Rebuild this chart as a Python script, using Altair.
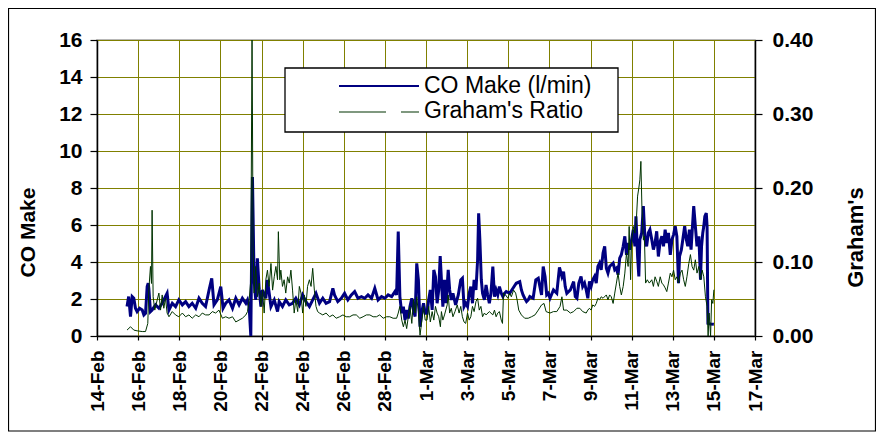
import altair as alt
import pandas as pd

# ---- CO Make (l/min): (days after 14-Feb-2004 00:00, value) ----
co_feb_a = [(1.46,1.59),(1.54,2.13),(1.63,1.05),(1.71,2.13),(1.79,2.04),(1.87,1.50),(1.95,1.32),(2.07,1.50),
            (2.20,1.41),(2.28,1.14),(2.36,1.23),(2.44,2.67),(2.49,2.85),(2.52,2.58),(2.60,1.32),(2.68,1.41),
            (2.85,1.68),(3.01,1.50),(3.17,1.77),(3.41,2.31),(3.50,1.41),(3.66,1.77),(3.82,1.59),(3.98,1.95),
            (4.15,1.68),(4.31,1.86),(4.47,1.59),(4.63,1.77),(4.80,1.50),(4.96,2.04),(5.12,1.77),(5.28,1.59),
            (5.45,2.49),(5.58,3.12),(5.69,1.68),(5.85,1.95),(6.02,2.67),(6.13,1.50),(6.26,1.77),(6.42,1.95),
            (6.59,1.50),(6.75,2.04),(6.91,1.68),(7.07,2.04),(7.24,1.77),(7.32,1.95),(7.40,1.59),(7.48,0.0),
            (7.56,8.6),(7.64,3.03),(7.72,1.95),(7.80,4.20),(7.89,2.49),(7.97,1.59),(8.05,2.49),(8.21,2.04),
            (8.29,3.03),(8.46,1.59),(8.62,1.95),(8.78,1.32)]
co_feb_b = [(8.86,1.86),(9.02,1.59),(9.18,1.95),(9.35,1.68),(9.51,1.77),(9.67,2.04),(9.84,1.68),(10.00,2.22),
            (10.16,1.86),(10.33,1.59),(10.49,1.95),(10.65,2.31),(10.82,1.77),(10.98,2.04),(11.14,1.77),(11.31,1.86),
            (11.47,2.58),(11.55,2.22),(11.71,1.86),(11.88,2.04),(12.04,2.31),(12.20,1.95),(12.37,2.22),(12.53,2.40),
            (12.69,2.04),(12.86,2.13),(13.02,2.04),(13.18,2.22),(13.35,2.04),(13.51,2.58),(13.67,1.95),(13.84,2.13),
            (14.00,2.04),(14.16,2.22),(14.33,2.13),(14.49,2.40),(14.57,2.22),(14.65,5.65),(14.73,2.13),(14.82,1.23),
            (14.90,1.59),(14.98,0.86),(15.06,1.41),(15.14,0.95),(15.22,1.59),(15.31,2.04),(15.39,1.41),(15.47,1.05),
            (15.55,3.93),(15.63,3.03),(15.71,0.50),(15.80,1.32),(15.88,1.77),(15.96,1.23)]
co_mar_a = [(16.05,1.23),(16.13,1.95),(16.21,2.49),(16.30,1.41),(16.38,3.57),(16.46,3.21),(16.54,1.77),(16.62,2.49),
            (16.69,4.32),(16.75,3.03),(16.82,1.59),(16.90,3.03),(16.98,1.77),(17.08,3.57),(17.15,2.49),(17.23,1.95),
            (17.31,2.31),(17.44,1.68),(17.57,2.22),(17.69,3.03),(17.77,3.12),(17.85,1.59),(17.93,1.77),(18.02,1.59),
            (18.10,2.31),(18.18,2.67),(18.26,1.77),(18.34,3.03),(18.43,2.49),(18.51,4.11),(18.56,6.63),(18.62,5.19),
            (18.69,3.03),(18.75,2.31),(18.84,1.95),(18.92,2.76),(19.00,2.22),(19.08,1.77),(19.16,2.31),(19.25,3.75),
            (19.33,2.13),(19.41,2.49),(19.49,2.22),(19.57,2.67),(19.66,2.31),(19.74,2.13),(19.82,2.31),(19.90,2.40),
            (20.07,2.31),(20.23,2.58),(20.39,2.85),(20.56,2.94),(20.64,2.49),(20.72,2.22),(20.80,2.04),(20.89,1.86),
            (20.97,1.95),(21.05,2.13),(21.21,2.04),(21.34,3.03),(21.46,3.12),(21.54,2.67),(21.62,2.22),(21.70,3.75),
            (21.79,3.21),(21.87,2.22),(21.95,2.31),(22.03,2.04),(22.20,2.49),(22.36,2.31),(22.49,3.71),(22.61,3.21),
            (22.69,3.48),(22.77,2.67),(22.85,2.31),(23.02,2.49),(23.18,2.94),(23.26,2.13),(23.34,2.04),(23.43,2.85)]
co_mar_b = [(23.54,3.22),(23.62,2.68),(23.71,2.86),(23.79,2.50),(23.87,2.04),(23.95,2.95),(24.03,2.68),(24.11,3.04),
            (24.20,3.22),(24.28,2.86),(24.36,3.76),(24.44,3.94),(24.52,3.58),(24.61,4.48),(24.69,4.85),(24.77,3.67),
            (24.85,3.40),(24.93,3.76),(25.01,3.85),(25.10,3.94),(25.18,3.58),(25.26,3.67),(25.34,3.31),(25.42,4.21),
            (25.50,4.39),(25.59,4.85),(25.67,5.39),(25.75,4.39),(25.83,5.03),(25.91,4.67),(26.00,5.21),(26.08,5.75),
            (26.16,4.85),(26.21,6.47),(26.29,4.30),(26.35,3.22),(26.40,5.21),(26.49,5.57),(26.57,7.02),(26.65,5.21),
            (26.73,4.85),(26.81,5.57),(26.89,5.75),(26.98,5.21),(27.06,4.67),(27.14,5.03),(27.22,5.66),(27.30,4.30),
            (27.39,5.12),(27.47,5.39),(27.55,4.85),(27.63,5.75),(27.71,5.03),(27.79,5.57),(27.88,4.39),(27.96,5.21),
            (28.04,5.48),(28.12,5.93),(28.20,5.39),(28.28,2.86),(28.33,4.30),(28.42,4.67),(28.50,5.30),(28.58,5.93),
            (28.66,5.21),(28.73,4.85),(28.81,5.75),(28.89,4.67),(28.95,5.75),(29.02,7.02),(29.10,5.93),(29.18,4.85),
            (29.27,5.39),(29.35,3.04),(29.40,4.85),(29.46,5.57),(29.51,5.93),(29.56,6.47),(29.63,6.65),(29.67,5.93),
            (29.71,0.69),(29.84,0.65),(30.00,0.63)]

# ---- Graham's Ratio: (days after 14-Feb-2004 00:00, ratio) ----
gr_feb_a = [(1.46,0.008),(1.63,0.0125),(1.79,0.008),(1.95,0.007),(2.20,0.006),(2.36,0.006),(2.47,0.017),(2.52,0.062),
            (2.60,0.094),(2.65,0.071),(2.68,0.170),(2.73,0.053),(2.81,0.035),(2.93,0.049),(3.01,0.058),(3.09,0.035),
            (3.17,0.0555),(3.25,0.0375),(3.33,0.051),(3.41,0.031),(3.50,0.026),(3.66,0.033),(3.82,0.0285),(3.98,0.026),
            (4.15,0.031),(4.31,0.026),(4.47,0.0285),(4.63,0.024),(4.80,0.0285),(4.96,0.026),(5.12,0.031),(5.28,0.0285),
            (5.45,0.0285),(5.61,0.033),(5.77,0.031),(5.93,0.035),(6.10,0.024),(6.26,0.026),(6.42,0.024),(6.59,0.026),
            (6.75,0.019),(6.91,0.0215),(7.07,0.024),(7.24,0.0285),(7.32,0.033),(7.40,0.049),(7.48,0.076),(7.54,0.42),
            (7.59,0.121),(7.64,0.058),(7.72,0.094),(7.80,0.053),(7.89,0.0715),(7.97,0.040),(8.05,0.062),(8.13,0.031),
            (8.21,0.076),(8.29,0.089),(8.37,0.067),(8.46,0.098),(8.54,0.062),(8.62,0.080),(8.70,0.094),(8.78,0.076)]
gr_feb_b = [(8.82,0.141),(8.89,0.076),(8.94,0.089),(9.02,0.067),(9.10,0.076),(9.18,0.058),(9.27,0.080),(9.35,0.0715),
            (9.43,0.089),(9.51,0.062),(9.59,0.031),(9.67,0.049),(9.76,0.033),(9.84,0.067),(9.92,0.058),(10.00,0.031),
            (10.08,0.0555),(10.16,0.040),(10.24,0.067),(10.33,0.076),(10.41,0.067),(10.49,0.0915),(10.57,0.062),(10.65,0.040),
            (10.73,0.033),(10.82,0.031),(10.98,0.0285),(11.14,0.031),(11.31,0.026),(11.47,0.0285),(11.63,0.024),(11.80,0.026),
            (11.96,0.0285),(12.12,0.026),(12.29,0.026),(12.45,0.0285),(12.61,0.0285),(12.78,0.024),(12.94,0.026),(13.10,0.0285),
            (13.27,0.0285),(13.43,0.026),(13.59,0.026),(13.75,0.0285),(13.92,0.024),(14.08,0.026),(14.24,0.026),(14.40,0.024),
            (14.57,0.024),(14.65,0.031),(14.73,0.040),(14.82,0.0215),(14.90,0.0125),(14.98,0.0215),(15.06,0.010),(15.14,0.026),
            (15.22,0.040),(15.31,0.017),(15.39,0.049),(15.47,0.031),(15.55,0.053),(15.63,0.031),(15.71,0.001),(15.80,0.0215),
            (15.88,0.040),(15.96,0.0215)]
gr_mar_a = [(16.05,0.0215),(16.13,0.040),(16.21,0.019),(16.30,0.033),(16.38,0.0215),(16.46,0.040),(16.54,0.031),(16.62,0.026),
            (16.70,0.0125),(16.75,0.033),(16.82,0.0215),(16.90,0.0285),(17.03,0.042),(17.08,0.0555),(17.15,0.031),(17.23,0.0375),
            (17.31,0.026),(17.41,0.033),(17.52,0.042),(17.61,0.031),(17.69,0.040),(17.77,0.026),(17.85,0.019),(17.93,0.017),
            (18.02,0.031),(18.10,0.0215),(18.18,0.026),(18.26,0.040),(18.34,0.033),(18.43,0.0465),(18.51,0.051),(18.59,0.035),
            (18.67,0.040),(18.75,0.026),(18.84,0.031),(18.92,0.0285),(19.08,0.033),(19.25,0.0285),(19.33,0.035),(19.41,0.026),
            (19.49,0.031),(19.57,0.033),(19.66,0.0215),(19.72,0.017),(19.77,0.058),(19.87,0.0555),(19.98,0.051),(20.07,0.058),
            (20.15,0.053),(20.26,0.062),(20.36,0.058),(20.43,0.049),(20.51,0.035),(20.64,0.0285),(20.80,0.024),(20.97,0.024),
            (21.13,0.026),(21.30,0.0285),(21.46,0.035),(21.62,0.042),(21.74,0.044),(21.84,0.033),(22.03,0.031),(22.20,0.033),
            (22.36,0.033),(22.52,0.040),(22.61,0.053),(22.69,0.035),(22.85,0.035),(23.02,0.031),(23.18,0.033),(23.34,0.0375),
            (23.48,0.0375)]
gr_mar_b = [(23.62,0.033),(23.79,0.031),(23.87,0.035),(23.95,0.0375),(24.03,0.035),(24.11,0.042),(24.20,0.040),(24.28,0.044),
            (24.36,0.051),(24.44,0.049),(24.52,0.053),(24.61,0.051),(24.77,0.0555),(24.85,0.049),(24.93,0.0555),(25.01,0.053),
            (25.10,0.044),(25.18,0.058),(25.26,0.0715),(25.34,0.085),(25.42,0.067),(25.50,0.0555),(25.59,0.067),(25.67,0.085),
            (25.75,0.112),(25.83,0.094),(25.88,0.148),(25.95,0.076),(26.00,0.130),(26.08,0.148),(26.16,0.139),(26.24,0.162),
            (26.29,0.189),(26.35,0.200),(26.40,0.211),(26.45,0.236),(26.50,0.175),(26.57,0.130),(26.62,0.135),(26.68,0.0715),
            (26.76,0.076),(26.86,0.0715),(26.98,0.076),(27.06,0.067),(27.14,0.080),(27.22,0.074),(27.30,0.067),(27.39,0.080),
            (27.47,0.0715),(27.55,0.069),(27.63,0.065),(27.71,0.060),(27.79,0.0715),(27.88,0.085),(27.96,0.080),(28.04,0.089),
            (28.12,0.076),(28.20,0.080),(28.28,0.0715),(28.37,0.085),(28.45,0.089),(28.53,0.076),(28.61,0.067),(28.69,0.080),
            (28.78,0.098),(28.86,0.110),(28.94,0.094),(29.02,0.089),(29.10,0.103),(29.18,0.085),(29.27,0.094),(29.35,0.076),
            (29.43,0.089),(29.51,0.080),(29.59,0.053),(29.67,0.040),(29.72,0.0),(29.77,0.031),(29.84,0.0),(29.89,0.049),
            (29.95,0.044),(30.00,0.0625)]

x_tick_dates = [(2, 14), (2, 16), (2, 18), (2, 20), (2, 22), (2, 24), (2, 26), (2, 28),
                (3, 1), (3, 3), (3, 5), (3, 7), (3, 9), (3, 11), (3, 13), (3, 15), (3, 17)]
co_ticks = [0, 2, 4, 6, 8, 10, 12, 14, 16]
gr_ticks = [0.0, 0.1, 0.2, 0.3, 0.4]
legend_labels = ["CO Make (l/min)", "Graham's Ratio"]

FONT = "Liberation Sans"
OLIVE = "#808000"
BLUE = "#000080"
GREEN = "#003300"

base = pd.Timestamp("2004-02-14")
df_co = pd.DataFrame(co_feb_a + co_feb_b + co_mar_a + co_mar_b, columns=["day", "co"])
df_co["time"] = base + pd.to_timedelta(df_co["day"], unit="D")
df_gr = pd.DataFrame(gr_feb_a + gr_feb_b + gr_mar_a + gr_mar_b, columns=["day", "gr"])
df_gr["time"] = base + pd.to_timedelta(df_gr["day"], unit="D")


def dt(m, d):
    return alt.DateTime(year=2004, month=m, date=d)


x_enc = alt.X(
    "time:T",
    scale=alt.Scale(domain=[dt(2, 14), dt(3, 17)]),
    axis=alt.Axis(
        values=[dt(m, d) for m, d in x_tick_dates], format="%-d-%b", labelAngle=270,
        labelFontSize=19, labelFontWeight="bold", tickSize=4, labelPadding=10,
        grid=True, gridColor=OLIVE, labelOverlap=False, labelFlush=False, title=None,
    ),
)

blue = alt.Chart(df_co).mark_line(color=BLUE, strokeWidth=3, clip=True).encode(
    x=x_enc,
    y=alt.Y(
        "co:Q",
        scale=alt.Scale(domain=[0, 16], nice=False, zero=True),
        axis=alt.Axis(
            orient="left", values=co_ticks, format="d", grid=True, gridColor=OLIVE,
            labelFontSize=21, labelFontWeight="bold", tickSize=7, labelPadding=8,
            title="CO Make", titleFontSize=21, titleFontWeight="bold", titleAngle=270,
            titleX=-69, titleY=192, titleAlign="center", titleBaseline="middle",
        ),
    ),
)

green = alt.Chart(df_gr).mark_line(color=GREEN, strokeWidth=1, clip=True).encode(
    x=x_enc,
    y=alt.Y(
        "gr:Q",
        scale=alt.Scale(domain=[0, 0.4], nice=False, zero=True),
        axis=alt.Axis(
            orient="right", values=gr_ticks, format=".2f", grid=False,
            labelFontSize=21, labelFontWeight="bold", tickSize=7, labelPadding=10,
            title="Graham's", titleFontSize=22, titleFontWeight="bold", titleAngle=270,
            titleX=100, titleY=197, titleAlign="center", titleBaseline="middle",
        ),
    ),
)

one = pd.DataFrame({"k": [0]})

outer = alt.Chart(one).mark_rect(fillOpacity=0, stroke="black", strokeWidth=1.2).encode(
    x=alt.value(-88.5), x2=alt.value(778.5), y=alt.value(-31.5), y2=alt.value(391)
)
leg_box = alt.Chart(one).mark_rect(fill="white", stroke="black", strokeWidth=1.3).encode(
    x=alt.value(188), x2=alt.value(521), y=alt.value(28), y2=alt.value(92)
)
leg_blue = alt.Chart(one).mark_rule(color=BLUE, strokeWidth=2).encode(
    x=alt.value(242), x2=alt.value(322), y=alt.value(46)
)
leg_green = alt.Chart(one).mark_rule(color=GREEN, strokeWidth=1.2, strokeDash=[47, 15, 18, 60]).encode(
    x=alt.value(242), x2=alt.value(322), y=alt.value(72)
)
leg_t1 = alt.Chart(one).mark_text(text=legend_labels[0], align="left", baseline="middle",
                                  fontSize=23, font=FONT, color="black").encode(
    x=alt.value(327), y=alt.value(46)
)
leg_t2 = alt.Chart(one).mark_text(text=legend_labels[1], align="left", baseline="middle",
                                  fontSize=23, font=FONT, color="black").encode(
    x=alt.value(327), y=alt.value(71)
)

chart = (
    alt.layer(outer, blue, green, leg_box, leg_blue, leg_green, leg_t1, leg_t2)
    .resolve_scale(y="independent")
    .properties(
        width=658, height=296,
        autosize=alt.AutoSizeParams(type="none"),
        padding={"left": 89, "top": 32, "right": 121, "bottom": 96},
        background="white",
    )
    .configure_view(stroke="#a0a0a0", strokeWidth=1.5)
    .configure_axis(
        labelFont=FONT, titleFont=FONT, labelColor="black", titleColor="black",
        domainColor="black", domainWidth=1.5, tickColor="black", tickWidth=1.2, gridWidth=1,
    )
)

chart.save("out.html", embed_options={"renderer": "svg", "actions": False})
